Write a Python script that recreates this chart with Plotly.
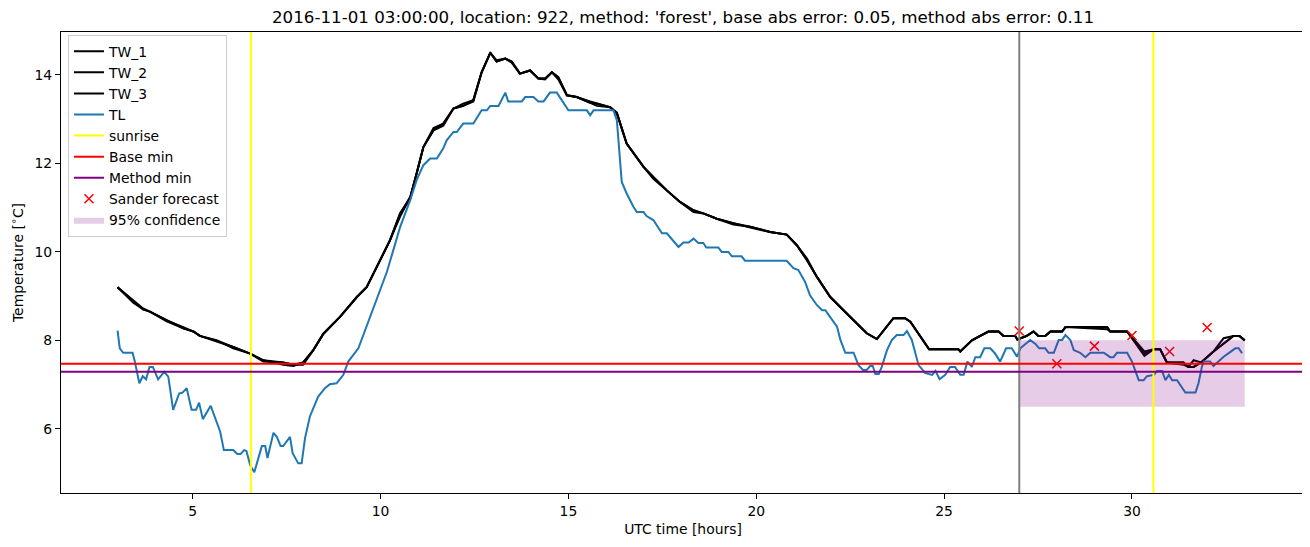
import plotly.graph_objects as go

# ---------------- data ----------------
tw_hours = [3.0, 3.42, 3.68, 3.86, 4.31, 4.75, 5.02, 5.19, 5.64, 6.08, 6.53, 6.88, 7.41, 7.68, 7.94,
            8.21, 8.48, 8.92, 9.37, 9.63, 9.90, 10.25, 10.52, 10.79, 10.96, 11.14, 11.41, 11.67, 11.94,
            12.20, 12.47, 12.69, 12.92, 13.09, 13.32, 13.49, 13.71, 13.98, 14.20, 14.38, 14.56, 14.73,
            14.96, 15.22, 15.58, 15.76, 16.11, 16.29, 16.55, 17.00, 17.26, 17.62, 17.97, 18.33, 18.59,
            18.95, 19.39, 19.84, 20.37, 20.81, 21.08, 21.35, 21.61, 21.97, 22.32, 22.68, 22.94, 23.21,
            23.65, 23.96, 24.10, 24.60, 25.38, 25.43, 25.74, 25.96, 26.18, 26.45, 26.58, 26.89, 26.95,
            27.20, 27.38, 27.51, 27.69, 27.83, 28.14, 28.23, 29.34, 29.42, 29.87, 30.33, 30.58, 30.75,
            30.93, 31.37, 31.50, 31.64, 31.84, 32.17, 32.44, 32.70, 32.86, 33.0]

tw_1 = [9.2, 8.9, 8.7, 8.65, 8.45, 8.27, 8.2, 8.1, 8.0, 7.85, 7.7, 7.55, 7.5, 7.45, 7.5,
        7.78, 8.15, 8.53, 8.98, 9.2, 9.66, 10.26, 10.87, 11.24, 11.77, 12.37, 12.75, 12.9, 13.24,
        13.3, 13.43, 14.06, 14.5, 14.3, 14.37, 14.3, 14.03, 14.1, 13.92, 13.92, 14.06, 13.95,
        13.54, 13.5, 13.37, 13.35, 13.27, 13.13, 12.45, 11.92, 11.69, 11.39, 11.13, 10.94, 10.87,
        10.75, 10.65, 10.57, 10.45, 10.39, 10.15, 9.81, 9.44, 8.98, 8.68, 8.38, 8.16, 8.03,
        8.5, 8.5, 8.42, 7.8, 7.8, 7.75, 8.0, 8.1, 8.2, 8.2, 8.1, 8.1, 8.02,
        8.1, 8.2, 8.1, 8.1, 8.2, 8.2, 8.3, 8.3, 8.2, 8.2, 7.7, 7.8, 7.8,
        7.5, 7.5, 7.4, 7.4, 7.5, 7.75, 7.93, 8.1, 8.1, 8.0]

tw_2 = [9.2, 8.85, 8.7, 8.65, 8.43, 8.27, 8.2, 8.1, 8.0, 7.82, 7.7, 7.55, 7.45, 7.42, 7.5,
        7.78, 8.15, 8.53, 8.98, 9.2, 9.66, 10.26, 10.8, 11.24, 11.77, 12.37, 12.8, 12.9, 13.24,
        13.35, 13.43, 14.06, 14.5, 14.3, 14.37, 14.28, 14.03, 14.1, 13.92, 13.9, 14.06, 13.95,
        13.54, 13.5, 13.4, 13.35, 13.27, 13.15, 12.45, 11.92, 11.69, 11.39, 11.13, 10.9, 10.87,
        10.75, 10.65, 10.55, 10.45, 10.39, 10.15, 9.81, 9.44, 8.98, 8.68, 8.38, 8.16, 8.03,
        8.5, 8.5, 8.42, 7.8, 7.8, 7.75, 8.0, 8.1, 8.2, 8.2, 8.1, 8.1, 8.02,
        8.1, 8.2, 8.1, 8.1, 8.2, 8.2, 8.3, 8.25, 8.2, 8.2, 7.75, 7.8, 7.8,
        7.5, 7.45, 7.4, 7.4, 7.5, 7.75, 7.93, 8.1, 8.1, 8.0]

tw_3 = [9.2, 8.9, 8.72, 8.65, 8.45, 8.3, 8.2, 8.1, 7.97, 7.85, 7.7, 7.52, 7.5, 7.45, 7.45,
        7.78, 8.15, 8.53, 8.98, 9.2, 9.66, 10.26, 10.87, 11.2, 11.77, 12.37, 12.75, 12.85, 13.24,
        13.3, 13.4, 14.06, 14.5, 14.33, 14.37, 14.3, 14.03, 14.1, 13.92, 13.92, 14.06, 13.9,
        13.54, 13.5, 13.37, 13.3, 13.27, 13.13, 12.45, 11.92, 11.65, 11.39, 11.13, 10.94, 10.87,
        10.75, 10.62, 10.57, 10.45, 10.39, 10.15, 9.85, 9.44, 8.98, 8.68, 8.38, 8.16, 8.03,
        8.5, 8.5, 8.42, 7.8, 7.8, 7.75, 8.0, 8.1, 8.2, 8.2, 8.1, 8.1, 8.02,
        8.1, 8.2, 8.1, 8.1, 8.2, 8.2, 8.3, 8.3, 8.2, 8.2, 7.65, 7.8, 7.8,
        7.5, 7.5, 7.4, 7.55, 7.5, 7.75, 8.05, 8.1, 8.1, 8.0]

tl_hours = [3.0, 3.06, 3.15, 3.40, 3.46, 3.58, 3.67, 3.76, 3.85, 3.94, 4.08, 4.24, 4.35, 4.48, 4.64,
            4.73, 4.84, 4.97, 5.09, 5.17, 5.27, 5.48, 5.73, 5.83, 6.08, 6.19, 6.27, 6.37, 6.43, 6.53,
            6.64, 6.84, 6.93, 6.99, 7.15, 7.24, 7.34, 7.41, 7.59, 7.66, 7.81, 7.90, 7.99, 8.12, 8.34,
            8.52, 8.65, 8.83, 9.01, 9.14, 9.41, 9.63, 9.90, 10.17, 10.34, 10.52, 10.79, 10.96, 11.14,
            11.32, 11.50, 11.67, 11.76, 11.94, 12.03, 12.20, 12.47, 12.69, 12.83, 12.92, 13.14, 13.32,
            13.40, 13.76, 13.85, 14.07, 14.20, 14.34, 14.51, 14.69, 15.00, 15.49, 15.58, 15.67, 16.20,
            16.29, 16.42, 16.55, 16.73, 16.82, 17.00, 17.08, 17.26, 17.49, 17.62, 17.75, 17.93, 18.06,
            18.20, 18.33, 18.46, 18.59, 18.67, 18.99, 19.08, 19.26, 19.35, 19.61, 19.70, 20.81, 20.99,
            21.12, 21.30, 21.43, 21.61, 21.75, 21.84, 21.93, 22.06, 22.15, 22.24, 22.37, 22.59, 22.72,
            22.84, 22.94, 23.03, 23.10, 23.17, 23.26, 23.34, 23.48, 23.61, 23.74, 23.92, 24.01, 24.14,
            24.32, 24.50, 24.68, 24.77, 24.88, 25.03, 25.16, 25.29, 25.43, 25.52, 25.62, 25.74, 25.83,
            25.96, 26.07, 26.23, 26.35, 26.49, 26.65, 26.80, 26.94, 27.03, 27.29, 27.43, 27.53, 27.69,
            27.78, 27.92, 28.05, 28.14, 28.23, 28.36, 28.45, 28.62, 28.76, 28.89, 29.25, 29.42, 29.51,
            29.60, 29.87, 30.00, 30.18, 30.31, 30.40, 30.58, 30.67, 30.80, 30.89, 30.98, 31.07, 31.20,
            31.33, 31.42, 31.69, 31.77, 31.86, 31.91, 32.08, 32.17, 32.30, 32.44, 32.62, 32.75, 32.84,
            32.93]

tl = [8.22, 7.82, 7.72, 7.72, 7.52, 7.03, 7.19, 7.12, 7.40, 7.40, 7.12, 7.29, 7.18, 6.43, 6.80,
      6.82, 6.92, 6.43, 6.43, 6.59, 6.22, 6.52, 5.94, 5.52, 5.52, 5.43, 5.43, 5.52, 5.50, 5.18,
      5.02, 5.61, 5.61, 5.34, 5.91, 5.82, 5.61, 5.61, 5.82, 5.45, 5.22, 5.22, 5.79, 6.28, 6.73,
      6.92, 7.01, 7.03, 7.22, 7.52, 7.82, 8.31, 8.95, 9.55, 10.04, 10.56, 11.17, 11.62, 11.96,
      12.11, 12.11, 12.34, 12.52, 12.71, 12.71, 12.90, 12.90, 13.20, 13.20, 13.30, 13.30, 13.60,
      13.40, 13.40, 13.50, 13.50, 13.40, 13.40, 13.60, 13.60, 13.20, 13.20, 13.09, 13.20, 13.20,
      12.97, 11.58, 11.32, 11.02, 10.90, 10.90, 10.81, 10.72, 10.42, 10.42, 10.29, 10.11, 10.21,
      10.21, 10.30, 10.20, 10.20, 10.10, 10.10, 10.00, 10.00, 9.90, 9.90, 9.80, 9.80, 9.63,
      9.59, 9.32, 9.02, 8.80, 8.68, 8.68, 8.57, 8.40, 8.31, 8.01, 7.72, 7.72, 7.44,
      7.33, 7.33, 7.42, 7.42, 7.24, 7.24, 7.40, 7.78, 8.01, 8.12, 8.12, 8.21, 8.01,
      7.44, 7.26, 7.22, 7.31, 7.12, 7.22, 7.40, 7.40, 7.22, 7.22, 7.52, 7.40, 7.62,
      7.62, 7.82, 7.82, 7.71, 7.52, 7.82, 7.82, 7.63, 7.82, 8.01, 7.92, 7.82, 7.82,
      7.72, 7.72, 8.01, 8.01, 8.12, 8.01, 7.78, 7.72, 7.62, 7.72, 7.72, 7.62, 7.62,
      7.72, 7.72, 7.52, 7.10, 7.10, 7.19, 7.22, 7.31, 7.31, 7.10, 7.22, 7.10, 7.10,
      6.92, 6.82, 6.82, 7.03, 7.40, 7.52, 7.52, 7.42, 7.52, 7.63, 7.74, 7.82, 7.82,
      7.71]

sunrise_hours = [6.55, 30.57]
forecast_start = 27.0
base_min = 7.47
method_min = 7.29

forecast_hours = [27, 28, 29, 30, 31, 32]
sander_forecast = [8.21, 7.47, 7.87, 8.11, 7.75, 8.29]

conf_hours = [27.0, 33.0]
conf_low = 6.5
conf_high = 8.0

x_ticks = [5, 10, 15, 20, 25, 30]
y_ticks = [6, 8, 10, 12, 14]

title_text = ("2016-11-01 03:00:00, location: 922, method: 'forest', "
              "base abs error: 0.05, method abs error: 0.11")

# ---------------- figure ----------------
# The page body adds an 8 px offset, so the figure is 8 px smaller in each direction.
FIG_W, FIG_H = 1302, 539
FONT = "DejaVu Sans"
LW = 2.0
fig = go.Figure()

for name, vals in [("TW_1", tw_1), ("TW_2", tw_2), ("TW_3", tw_3)]:
    fig.add_trace(go.Scatter(x=tw_hours, y=vals, mode="lines", name=name,
                             line=dict(color="black", width=LW)))

fig.add_trace(go.Scatter(x=tl_hours, y=tl, mode="lines", name="TL",
                         line=dict(color="#1f77b4", width=LW)))

# legend-only entries for the reference lines (drawn as shapes)
fig.add_trace(go.Scatter(x=[None], y=[None], mode="lines", name="sunrise",
                         line=dict(color="yellow", width=LW)))
fig.add_trace(go.Scatter(x=[None], y=[None], mode="lines", name="Base min",
                         line=dict(color="red", width=LW)))
fig.add_trace(go.Scatter(x=[None], y=[None], mode="lines", name="Method min",
                         line=dict(color="purple", width=LW)))

fig.add_trace(go.Scatter(x=forecast_hours, y=sander_forecast, mode="markers",
                         name="Sander forecast",
                         marker=dict(symbol="x-thin", size=9, color="red",
                                     line=dict(color="red", width=1.5))))

fig.add_trace(go.Scatter(x=[conf_hours[0], conf_hours[1], conf_hours[1], conf_hours[0], conf_hours[0]],
                         y=[conf_low, conf_low, conf_high, conf_high, conf_low],
                         mode="lines", fill="toself", name="95% confidence",
                         fillcolor="rgba(128,0,128,0.2)", line=dict(width=0)))

shapes = []
shapes.append(dict(type="line", xref="x", yref="paper", x0=forecast_start, x1=forecast_start,
                   y0=0, y1=1, line=dict(color="gray", width=LW), layer="above"))
for s in sunrise_hours:
    shapes.append(dict(type="line", xref="x", yref="paper", x0=s, x1=s, y0=0, y1=1,
                       line=dict(color="yellow", width=LW), layer="above"))
shapes.append(dict(type="line", xref="paper", yref="y", x0=0, x1=1, y0=base_min, y1=base_min,
                   line=dict(color="red", width=LW), layer="above"))
shapes.append(dict(type="line", xref="paper", yref="y", x0=0, x1=1, y0=method_min, y1=method_min,
                   line=dict(color="purple", width=LW), layer="above"))

axis_common = dict(showline=True, linecolor="black", linewidth=1.1, mirror=True,
                   ticks="outside", ticklen=5, tickwidth=1.1, tickcolor="black",
                   showgrid=False, zeroline=False,
                   tickfont=dict(family=FONT, size=13.9, color="black"))

fig.update_layout(
    width=FIG_W, height=FIG_H,
    margin=dict(l=53, r=5, t=24, b=54),
    paper_bgcolor="white", plot_bgcolor="white",
    font=dict(family=FONT, size=13.9, color="black"),
    title=dict(text=title_text, x=0.5, xref="paper", xanchor="center",
               y=1 - 9 / FIG_H, yref="container", yanchor="middle",
               font=dict(family=FONT, size=16.7, color="black")),
    xaxis=dict(range=[1.495, 34.605], tickvals=x_ticks,
               title=dict(text="UTC time [hours]", font=dict(family=FONT, size=13.9),
                          standoff=6),
               **axis_common),
    yaxis=dict(range=[4.55, 14.97], tickvals=y_ticks,
               title=dict(text="Temperature [<sup>∘</sup>C]", font=dict(family=FONT, size=13.9),
                          standoff=8),
               **axis_common),
    shapes=shapes,
    showlegend=True,
    legend=dict(x=0.0056, y=0.994, xanchor="left", yanchor="top",
                bgcolor="rgba(255,255,255,0.8)", bordercolor="#cccccc", borderwidth=1,
                font=dict(family=FONT, size=13.9, color="black"),
                tracegroupgap=0),
)

fig.write_html("out.html")
